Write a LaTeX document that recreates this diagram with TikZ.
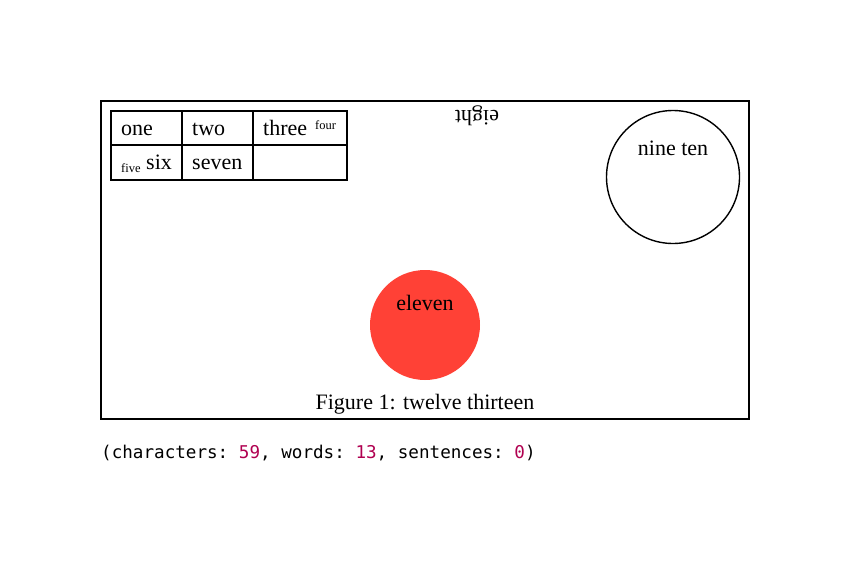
\documentclass[tikz,border=0pt]{standalone}
\usepackage{fontspec}
\setmainfont{Liberation Serif}
\setmonofont{DejaVu Sans Mono}
\definecolor{redfill}{RGB}{255,65,54}
\definecolor{numcol}{RGB}{176,0,80}
\begin{document}
\begin{tikzpicture}[x=1pt,y=-1pt,
  frame/.style={draw=black,line width=1.4pt},
  txt/.style={inner sep=0pt,font=\fontsize{22}{24}\selectfont},
  celltxt/.style={txt,anchor=base west},
  small/.style={inner sep=0pt,font=\fontsize{12.5}{14}\selectfont}]
\useasboundingbox (0,0) rectangle (850,560);
\path[frame] (101,101) rectangle (749,419);
% table
\path[frame] (111,111) rectangle (347,180);
\draw[line width=1.4pt] (111,145) -- (347,145);
\draw[line width=1.4pt] (182,111) -- (182,180);
\draw[line width=1.4pt] (253,111) -- (253,180);
\node[celltxt] (c1) at (121,135) {one};
\node[celltxt] (c2) at (192,135) {two};
\node[celltxt] (c3) at (263,135) {three};
\node[small,anchor=base west] (c4) at (315,129) {four};
\node[small,anchor=base west] (c5) at (121,172) {five};
\node[celltxt] (c6) at (146,169) {six};
\node[celltxt] (c7) at (192,169) {seven};
\node[txt,rotate=180,anchor=base] (e8) at (477,110) {eight};
\node[circle,draw,line width=1.4pt,minimum size=133pt,inner sep=0pt] (big) at (673,177) {};
\node[txt,anchor=base] (nt) at (673,155) {nine ten};
\node[circle,fill=redfill,minimum size=110pt,inner sep=0pt] (red) at (425,325) {};
\node[txt,anchor=base] (el) at (425,310) {eleven};
\node[txt,anchor=base] (cap) at (425,409) {Figure 1: twelve thirteen};
\node[inner sep=0pt,anchor=base west,font=\ttfamily\fontsize{17.6}{20}\selectfont] (cnt) at (101,458)
 {(characters: \textcolor{numcol}{59}, words: \textcolor{numcol}{13}, sentences: \textcolor{numcol}{0})};
\end{tikzpicture}
\end{document}
